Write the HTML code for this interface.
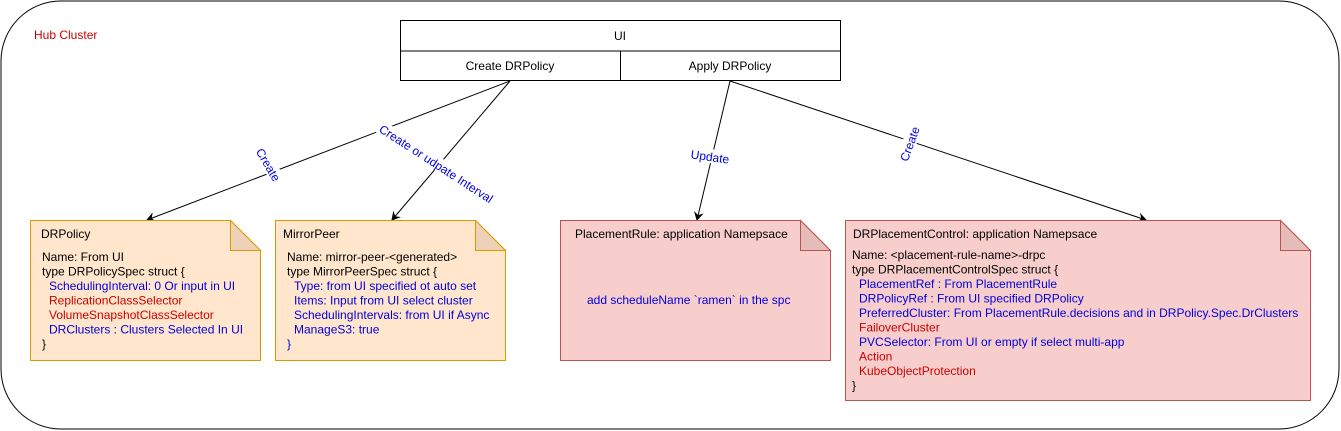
<!DOCTYPE html>
<html><head><meta charset="utf-8"><style>
html,body{margin:0;padding:0;background:#fff;}
svg{display:block;font-family:"Liberation Sans",Arial,sans-serif;}
</style></head><body>
<svg width="1341" height="431" viewBox="0 0 1341 431" xmlns="http://www.w3.org/2000/svg">
<defs><marker id="a" markerWidth="10" markerHeight="10" refX="8" refY="5" orient="auto" markerUnits="userSpaceOnUse"><path d="M0,0 L9,5 L0,10 L3,5 Z" fill="#000"/></marker></defs>
<rect x="1" y="1" width="1338" height="428" rx="60" ry="60" fill="#fff" stroke="#000" stroke-width="1"/>
<text x="34" y="39" font-size="12" fill="#cc0000">Hub Cluster</text>
<rect x="400.5" y="20.5" width="440" height="60" fill="#fff" stroke="#000"/>
<line x1="400.5" y1="51" x2="840.5" y2="51" stroke="#000"/>
<line x1="620.5" y1="51" x2="620.5" y2="80.5" stroke="#000"/>
<text x="620" y="40" font-size="12" text-anchor="middle">UI</text>
<text x="510" y="70" font-size="12" text-anchor="middle">Create DRPolicy</text>
<text x="730" y="70" font-size="12" text-anchor="middle">Apply DRPolicy</text>
<g stroke="#000" stroke-width="1" fill="none">
<line x1="510" y1="81" x2="147" y2="220" marker-end="url(#a)"/>
<line x1="510" y1="81" x2="392" y2="220" marker-end="url(#a)"/>
<line x1="730" y1="81" x2="697" y2="220" marker-end="url(#a)"/>
<line x1="730" y1="81" x2="1146" y2="220" marker-end="url(#a)"/>
</g>
<g font-size="12" fill="#0000dd">
<g transform="translate(268,165) rotate(60)"><rect x="-21" y="-8" width="42" height="14" fill="#fff"/><text text-anchor="middle" y="4">Create</text></g>
<g transform="translate(436,164) rotate(33)"><rect x="-70" y="-8" width="140" height="14" fill="#fff"/><text text-anchor="middle" y="4">Create or udpate Interval</text></g>
<g transform="translate(710,157) rotate(8)"><rect x="-21" y="-8" width="42" height="14" fill="#fff"/><text text-anchor="middle" y="4">Update</text></g>
<g transform="translate(910,144) rotate(-70)"><rect x="-21" y="-8" width="42" height="14" fill="#fff"/><text text-anchor="middle" y="4">Create</text></g>
</g>
<path d="M30.5,220.5 H230.5 L260.5,250.5 V360.5 H30.5 Z" fill="#ffe6cc" stroke="#d79b00"/>
<path d="M230.5,220.5 V250.5 H260.5 Z" fill="#edd2b8" stroke="#d79b00"/>
<g font-size="12">
<text x="41" y="238">DRPolicy</text>
<text x="42" y="261">Name: From UI</text>
<text x="42" y="275.5">type DRPolicySpec struct {</text>
<text x="49" y="290" fill="#0000dd">SchedulingInterval: 0 Or input in UI</text>
<text x="49" y="304.5" fill="#cc0000">ReplicationClassSelector</text>
<text x="49" y="319" fill="#cc0000">VolumeSnapshotClassSelector</text>
<text x="49" y="333.5" fill="#0000dd">DRClusters : Clusters Selected In UI</text>
<text x="42" y="348">}</text>
</g>
<path d="M275.5,220.5 H475.5 L505.5,250.5 V360.5 H275.5 Z" fill="#ffe6cc" stroke="#d79b00"/>
<path d="M475.5,220.5 V250.5 H505.5 Z" fill="#edd2b8" stroke="#d79b00"/>
<g font-size="12">
<text x="283" y="238">MirrorPeer</text>
<text x="287" y="261">Name: mirror-peer-&lt;generated&gt;</text>
<text x="287" y="275.5">type MirrorPeerSpec struct {</text>
<text x="294" y="290" fill="#0000dd">Type: from UI specified ot auto set</text>
<text x="294" y="304.5" fill="#0000dd">Items: Input from UI select cluster</text>
<text x="294" y="319" fill="#0000dd">SchedulingIntervals: from UI if Async</text>
<text x="294" y="333.5" fill="#0000dd">ManageS3: true</text>
<text x="287" y="348" fill="#0000dd">}</text>
</g>
<path d="M560.5,220.5 H800.5 L830.5,250.5 V360.5 H560.5 Z" fill="#f8cecc" stroke="#b85450"/>
<path d="M800.5,220.5 V250.5 H830.5 Z" fill="#e6bcba" stroke="#b85450"/>
<g font-size="12">
<text x="575" y="238">PlacementRule: application Namepsace</text>
<text x="587" y="304" fill="#0000dd">add scheduleName `ramen` in the spc</text>
</g>
<path d="M845.5,220.5 H1280.5 L1310.5,250.5 V400.5 H845.5 Z" fill="#f8cecc" stroke="#b85450"/>
<path d="M1280.5,220.5 V250.5 H1310.5 Z" fill="#e6bcba" stroke="#b85450"/>
<g font-size="12">
<text x="853" y="238">DRPlacementControl: application Namepsace</text>
<text x="852" y="259">Name: &lt;placement-rule-name&gt;-drpc</text>
<text x="852" y="273.5">type DRPlacementControlSpec struct {</text>
<text x="859" y="288" fill="#0000dd">PlacementRef : From PlacementRule</text>
<text x="859" y="302.5" fill="#0000dd">DRPolicyRef : From UI specified DRPolicy</text>
<text x="859" y="317" fill="#0000dd">PreferredCluster: From PlacementRule.decisions and in DRPolicy.Spec.DrClusters</text>
<text x="859" y="331.5" fill="#cc0000">FailoverCluster</text>
<text x="859" y="346" fill="#0000dd">PVCSelector: From UI or empty if select multi-app</text>
<text x="859" y="360.5" fill="#cc0000">Action</text>
<text x="859" y="375" fill="#cc0000">KubeObjectProtection</text>
<text x="852" y="389.5">}</text>
</g>
</svg>
</body></html>
